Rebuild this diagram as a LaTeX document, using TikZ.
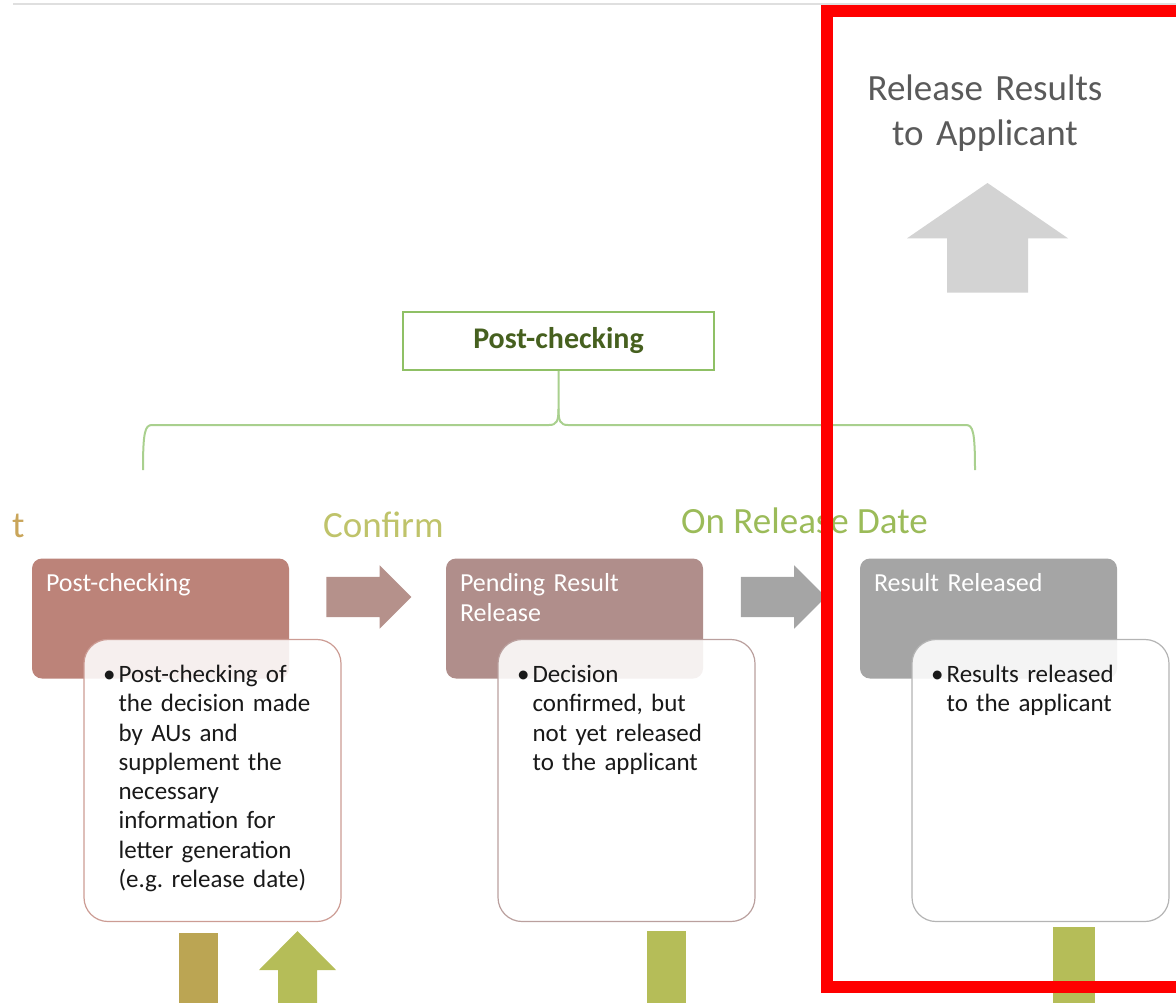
\documentclass[tikz,border=0pt]{standalone}
\usepackage{fontspec}
\setmainfont{Carlito}
\usetikzlibrary{shapes.arrows,calc}
\definecolor{headA}{HTML}{BC8379}
\definecolor{headB}{HTML}{B08E8B}
\definecolor{headC}{HTML}{A5A5A5}
\definecolor{lineA}{HTML}{CC9C94}
\definecolor{lineB}{HTML}{BAA09E}
\definecolor{lineC}{HTML}{B4B4B4}
\definecolor{arrA}{HTML}{B5918B}
\definecolor{arrB}{HTML}{A5A5A5}
\definecolor{upgray}{HTML}{D3D3D3}
\definecolor{barA}{HTML}{BBA553}
\definecolor{barB}{HTML}{B5BD58}
\definecolor{bracegreen}{HTML}{A9D08E}
\definecolor{lblline}{HTML}{8FC065}
\definecolor{lbltext}{HTML}{46601F}
\definecolor{tan}{HTML}{C9A55A}
\definecolor{olive}{HTML}{BFC36A}
\definecolor{leaf}{HTML}{9BBB59}
\definecolor{darkgray}{HTML}{5A5A5A}
\tikzset{
  head/.style={rectangle, rounded corners=10pt, minimum width=257pt, minimum height=120pt, inner sep=0pt},
  detail/.style={rectangle, rounded corners=24pt, fill=white, fill opacity=0.88, line width=1.2pt,
    minimum width=257pt, minimum height=282pt, inner sep=0pt},
  headtext/.style={anchor=base west, text=white, text width=235pt, align=left, inner sep=0pt,
    font=\fontsize{26}{30}\selectfont},
  pointtext/.style={anchor=base west, text=black!90, text width=215pt, align=left, inner sep=0pt,
    font=\fontsize{25}{29.3}\selectfont},
  bigtext/.style={inner sep=0pt, font=\fontsize{37}{45}\selectfont},
  chevron/.style={single arrow, single arrow head extend=11.5pt, minimum height=85pt,
    inner xsep=0pt, inner ysep=20pt, anchor=tail},
  brace/.style={bracegreen, line width=2pt}
}
\newcommand{\pt}{\llap{•\hspace{3pt}}}
\frenchspacing
\begin{document}
\begin{tikzpicture}[x=1pt,y=-1pt]
\useasboundingbox (0,0) rectangle (1176,1002);
\def\dy{43.5};% first baseline below the top of a detail box
\draw[gray!25, line width=2pt] (13,4) -- (1176,4);
\node[draw=lblline, line width=1.5pt, minimum width=311pt, minimum height=58pt, text=lbltext,
  font=\bfseries\fontsize{30}{36}\selectfont] (lbl) at (558.5,341) {Post-checking};
\draw[brace] (lbl.south) -- ++(0,38) .. controls +(0,12) and +(8,0) .. (549,425) -- (152,425)
  .. controls (145,425) and (143,432) .. (143,470);
\draw[brace] (lbl.south) ++(0,38) .. controls +(0,12) and +(-8,0) .. (568,425) -- (966,425)
  .. controls (973,425) and (975,432) .. (975,470);
\node[bigtext, text=tan, anchor=base west] (cut) at (12,537) {t};
\node[bigtext, text=olive, anchor=base west] (confirm) at (323,537) {Confirm};
\node[bigtext, text=leaf, anchor=base west] (ondate) at (681,533) {On Release Date};
\node[bigtext, text=darkgray, anchor=base, text width=300pt, align=center] (release) at (985,100)
  {Release Results\\to Applicant};
\foreach \n/\x/\hc/\dc in {1/32/headA/lineA, 2/446/headB/lineB, 3/860/headC/lineC} {
  \node[head, fill=\hc] (h\n) at (\x+128.5,618.5) {};
  \node[detail, draw=\dc] (d\n) at (\x+180.5,780.5) {};
}
\node[headtext] (t1) at ([shift={(14,33.5)}]h1.north west) {Post-checking};
\node[headtext] (t2) at ([shift={(14,33.5)}]h2.north west) {Pending Result\\Release};
\node[headtext] (t3) at ([shift={(14,33.5)}]h3.north west) {Result Released};
\node[pointtext] (p1) at ([shift={(35,\dy)}]d1.north west)
  {\pt Post-checking of\\the decision made\\by AUs and\\supplement the\\necessary\\information for\\letter generation\\(e.g. release date)};
\node[pointtext] (p2) at ([shift={(35,\dy)}]d2.north west)
  {\pt Decision\\confirmed, but\\not yet released\\to the applicant};
\node[pointtext] (p3) at ([shift={(35,\dy)}]d3.north west)
  {\pt Results released\\to the applicant};
\node[chevron, fill=arrA] (c12) at ($(h1.east)+(37,-21.5)$) {};
\node[chevron, fill=arrB] (c23) at ($(h2.east)+(37.5,-21.5)$) {};
\fill[upgray] (947,292.5) -- (947,238.3) -- (907,238.3) -- (987.5,183) -- (1068,238.3) -- (1028,238.3) -- (1028,292.5) -- cycle;
\fill[barA] (178.5,932.7) rectangle (218.3,1010);
\fill[barB] (278,1010) -- (278,970) -- (259,970) -- (297.5,931) -- (336,970) -- (317,970) -- (317,1010) -- cycle;
\fill[barB] (646.5,930.7) rectangle (686.3,1010);
\fill[barB] (1053,926.7) rectangle (1095,1010);
\draw[red, line width=12pt] (826.5,11) rectangle (1200,986.5);
\end{tikzpicture}
\end{document}
